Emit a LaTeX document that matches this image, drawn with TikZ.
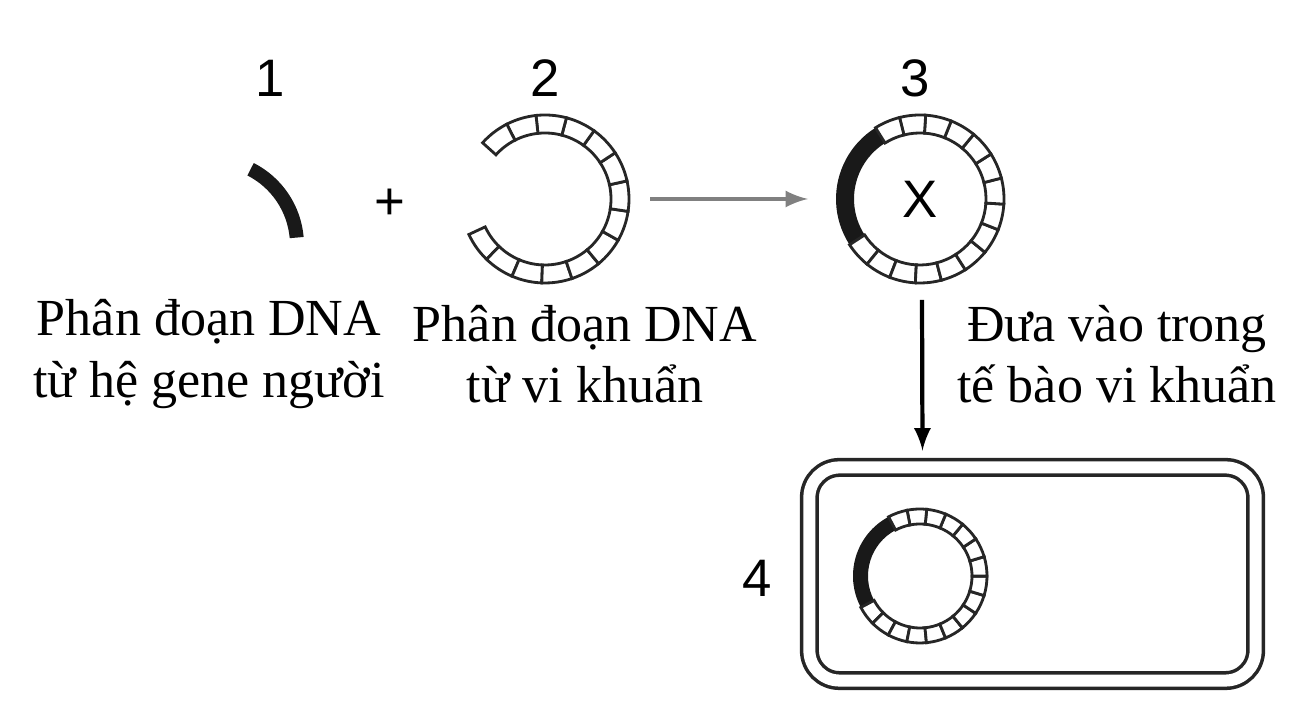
\documentclass[tikz,border=0pt]{standalone}
\usepackage{fontspec}
\setmainfont{Liberation Serif}
\newfontfamily\numfont{Liberation Sans}
\usetikzlibrary{calc,positioning}

% ring of boxes: center, inner r, outer r, start angle, end angle, number of boxes
\newcommand\segring[6]{%
  \pgfmathsetmacro\st{(#5-#4)/#6}
  \foreach \i in {1,...,#6}{
    \pgfmathsetmacro\a{#4+(\i-1)*\st}
    \pgfmathsetmacro\b{#4+\i*\st}
    \draw[seg] ($#1+(\a:#3)$) arc[start angle=\a,end angle=\b,radius=#3]
      -- ($#1+(\b:#2)$) arc[start angle=\b,end angle=\a,radius=#2] -- cycle;
  }}
\newcommand\blackarc[5]{%
  \fill[black!90] ($#1+(#4:#3)$) arc[start angle=#4,end angle=#5,radius=#3]
    -- ($#1+(#5:#2)$) arc[start angle=#5,end angle=#4,radius=#2] -- cycle;}

\tikzset{
  seg/.style={draw=black!85, fill=white, line width=0.8pt},
  num/.style={font=\numfont\fontsize{15}{17}\selectfont},
  lab/.style={font=\fontsize{14.8}{17.5}\selectfont, align=center},
}

\begin{document}
\begin{tikzpicture}[x=0.01cm,y=0.01cm]
  \useasboundingbox (0,0) rectangle (1312,710);
  \coordinate (c1) at (212,465);
  \coordinate (c2) at (545,511);
  \coordinate (c3) at (920,511);
  \coordinate (c4) at (920,134);

  % human fragment
  \blackarc{(c1)}{78}{92}{5}{63}
  \node[num] (plus) at (390,506) {+};
  % bacterial plasmid, open
  \segring{(c2)}{66}{84}{-155}{138}{14}
  % recombinant plasmid
  \blackarc{(c3)}{66}{84}{122}{213}
  \segring{(c3)}{66}{84}{213}{482}{15}
  \node[num] (x) at (c3) {X};

  % cell
  \node[draw=black!85, double, line width=1pt, double distance=0.12cm, rounded corners=0.3cm,
        minimum width=4.46cm, minimum height=2.13cm, inner sep=0pt] (cell) at (1032.5,136) {};
  \blackarc{(c4)}{52}{67}{118}{208}
  \segring{(c4)}{52}{67}{208}{478}{16}

  % numbers
  \node[num] (n1) at (270,632) {1};
  \node[num] (n2) at (545,632) {2};
  \node[num] (n3) at (915,632) {3};
  \node[num] (n4) at (757,132) {4};

  % labels
  \node[lab] (l1) at (209,356) {Phân đoạn DNA\\từ hệ gene người};
  \node[lab] (l2) at (585,356) {Phân đoạn DNA\\từ vi khuẩn};
  \node[lab] (l3) at (1117,356) {Đưa vào trong\\tế bào vi khuẩn};

  % arrows
  \coordinate (a1) at (650,511);
  \coordinate (a2) at (808,511);
  \draw[-latex, gray, line width=1.2pt] (a1) -- (a2);
  \coordinate (d1) at (922,410);
  \draw[-latex, line width=1.2pt] (d1) -- ($(cell.north)+(-110,15)$);
\end{tikzpicture}
\end{document}
